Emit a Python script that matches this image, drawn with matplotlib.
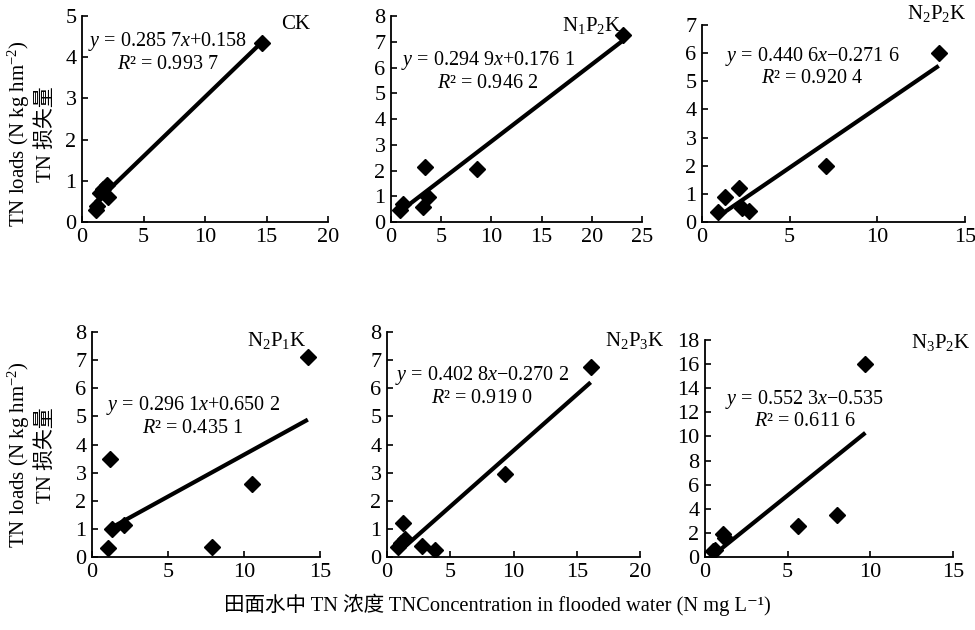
import matplotlib

matplotlib.use("Agg")
import matplotlib.pyplot as plt
import numpy as np

plt.rcParams["font.family"] = ["Liberation Serif", "Noto Sans CJK SC"]
plt.rcParams["mathtext.fontset"] = "custom"
plt.rcParams["mathtext.rm"] = "Liberation Serif"
plt.rcParams["mathtext.it"] = "Liberation Serif:italic"
plt.rcParams["mathtext.bf"] = "Liberation Serif:bold"

# TN concentration in flooded water (x) vs TN loads (y), one pair per treatment
ck_x = [1.1, 1.2, 1.5, 1.7, 2.0, 2.1, 14.6]
ck_y = [0.3, 0.4, 0.7, 0.8, 0.9, 0.6, 4.35]

n1p2k_x = [0.9, 1.2, 3.2, 3.4, 3.7, 8.6, 23.1]
n1p2k_y = [0.47, 0.7, 0.57, 2.15, 0.98, 2.05, 7.25]

n2p2k_x = [0.9, 1.3, 2.1, 2.3, 2.7, 7.1, 13.5]
n2p2k_y = [0.35, 0.9, 1.2, 0.5, 0.4, 2.0, 6.0]

n2p1k_x = [1.07, 1.18, 1.3, 2.1, 7.9, 10.5, 14.2]
n2p1k_y = [0.31, 3.48, 1.0, 1.15, 0.37, 2.6, 7.1]

n2p3k_x = [0.9, 1.1, 1.3, 1.4, 2.8, 3.8, 9.3, 16.1]
n2p3k_y = [0.35, 0.5, 1.2, 0.65, 0.4, 0.25, 2.95, 6.75]

n3p2k_x = [0.5, 0.6, 1.1, 1.2, 5.65, 8.0, 9.7]
n3p2k_y = [0.5, 0.6, 1.9, 1.6, 2.6, 3.5, 16.0]

panel_names = ["CK", r"N$_1$P$_2$K", r"N$_2$P$_2$K",
               r"N$_2$P$_1$K", r"N$_2$P$_3$K", r"N$_3$P$_2$K"]
equations = [
    "$y$ = 0.285 7$x$+0.158",
    "$y$ = 0.294 9$x$+0.176 1",
    "$y$ = 0.440 6$x$\u22120.271 6",
    "$y$ = 0.296 1$x$+0.650 2",
    "$y$ = 0.402 8$x$\u22120.270 2",
    "$y$ = 0.552 3$x$\u22120.535",
]
r_squared = ["0.993 7", "0.946 2", "0.920 4", "0.435 1", "0.919 0", "0.611 6"]
x_max = [20, 25, 15, 15, 20, 15]
y_max = [5, 8, 7, 8, 8, 18]
y_step = [1, 1, 1, 1, 1, 2]

xs = [ck_x, n1p2k_x, n2p2k_x, n2p1k_x, n2p3k_x, n3p2k_x]
ys = [ck_y, n1p2k_y, n2p2k_y, n2p1k_y, n2p3k_y, n3p2k_y]

# layout in pixels: left, y of zero, right, y of top tick
W, H = 975, 630
rects_px = [
    (82, 222, 328, 16),
    (391, 222, 642, 16),
    (702, 222, 965, 25),
    (92, 557, 320, 332),
    (387, 557, 640, 332),
    (705, 557, 953, 340),
]
eq_pos = [(0.347, 0.825), (0.385, 0.733), (0.418, 0.79),
          (0.443, 0.627), (0.375, 0.76), (0.403, 0.68)]
name_pos = [(0.87, 0.96), (0.80, 0.955), (0.894, 1.06),
            (0.81, 0.964), (0.98, 0.964), (0.95, 0.99)]


def draw_panel(fig, i):
    left, zero, right, top = rects_px[i]
    ax = fig.add_axes([left / W, 1 - zero / H, (right - left) / W, (zero - top) / H])
    x = np.array(xs[i])
    y = np.array(ys[i])

    slope, intercept = np.polyfit(x, y, 1)
    line_x = np.array([x.min(), x.max()])
    ax.plot(line_x, slope * line_x + intercept, color="black", lw=3, solid_capstyle="butt", zorder=2)
    ax.plot(x, y, "D", color="black", markersize=8.5, zorder=3)

    ax.set_xlim(0, x_max[i])
    ax.set_ylim(0, y_max[i])
    ax.set_xticks(np.arange(0, x_max[i] + 1, 5))
    ax.set_yticks(np.arange(0, y_max[i] + 1, y_step[i]))
    for side in ("top", "right"):
        ax.spines[side].set_visible(False)
    for side in ("left", "bottom"):
        ax.spines[side].set_linewidth(1.3)
    ax.tick_params(direction="in", length=4, width=1.2, labelsize=16, pad=4)
    ax.patch.set_alpha(0)

    ax.text(*eq_pos[i], equations[i] + "\n$R$\u00b2 = " + r_squared[i],
            transform=ax.transAxes, ha="center", va="center",
            multialignment="center", fontsize=14.5, linespacing=1.1)
    ax.text(*name_pos[i], panel_names[i], transform=ax.transAxes,
            ha="center", va="center", fontsize=15)
    return ax


def main():
    fig = plt.figure(figsize=(W / 100, H / 100), dpi=100)
    for i in range(len(xs)):
        draw_panel(fig, i)

    ylabel = "TN loads (N kg hm$^{-2}$)\nTN 损失量"
    fig.text(31 / W, 1 - 134 / H, ylabel, rotation=90, ha="center", va="center",
             multialignment="center", fontsize=15, linespacing=1.25)
    fig.text(31 / W, 1 - 455 / H, ylabel, rotation=90, ha="center", va="center",
             multialignment="center", fontsize=15, linespacing=1.25)
    fig.text(497 / W, 1 - 605 / H,
             "田面水中 TN 浓度 TNConcentration in flooded water (N mg L\u207b\u00b9)",
             ha="center", va="center", fontsize=14.8,
             family=["Liberation Serif", "Noto Sans CJK SC", "DejaVu Serif"])

    fig.savefig("out.png", dpi=100)


if __name__ == "__main__":
    main()
